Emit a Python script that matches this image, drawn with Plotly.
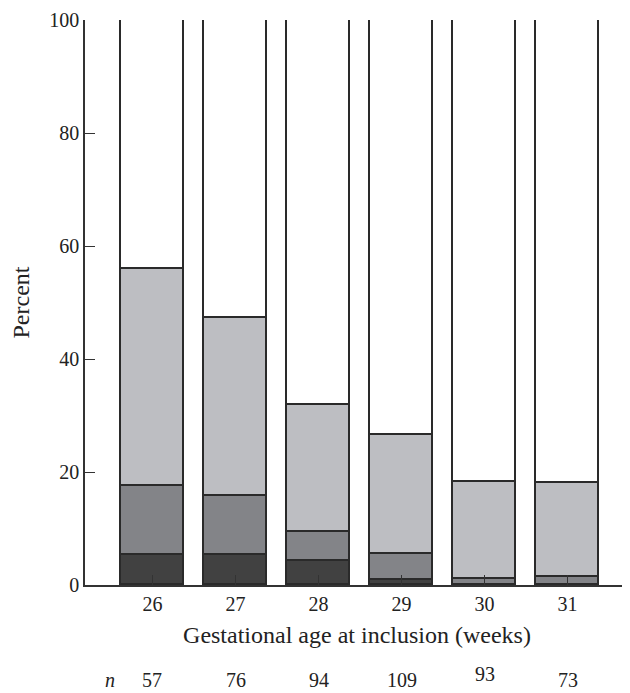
import plotly.graph_objects as go

weeks = [26, 27, 28, 29, 30, 31]
n_values = [57, 76, 94, 109, 93, 73]
dark = [5.3, 5.3, 4.3, 0.9, 0.0, 0.0]
medium = [12.2, 10.5, 5.1, 4.5, 1.0, 1.4]
light = [38.5, 31.5, 22.4, 21.1, 17.3, 16.6]
white = [44.0, 52.7, 68.2, 73.5, 81.7, 82.0]

series = [
    (dark, "#414141"),
    (medium, "#838488"),
    (light, "#bdbec2"),
    (white, "#ffffff"),
]

fig = go.Figure()
for vals, col in series:
    fig.add_trace(go.Bar(
        x=weeks, y=vals, width=0.76,
        marker=dict(color=col, line=dict(color="#2a2a2a", width=1.6)),
        cliponaxis=False, showlegend=False, hoverinfo="skip",
    ))

font = dict(family="Liberation Serif, DejaVu Serif, serif", size=20, color="#222222")

fig.update_layout(
    barmode="stack",
    width=622, height=685,
    margin=dict(l=77, r=1, t=10, b=108),
    paper_bgcolor="white", plot_bgcolor="white",
    font=font,
    bargap=0,
)
fig.update_xaxes(
    range=[25.187, 31.74], tickmode="array", tickvals=weeks,
    ticktext=[str(w) for w in weeks],
    ticks="inside", ticklen=10, tickwidth=1.2, tickcolor="#333333",
    showline=True, linecolor="#333333", linewidth=1.5,
    showgrid=False, zeroline=False, ticklabeloverflow="allow",
    title=dict(text="Gestational age at inclusion (weeks)", standoff=12),
)
fig.update_yaxes(
    range=[0, 100], tickvals=[0, 20, 40, 60, 80, 100],
    ticks="inside", ticklen=10, tickwidth=1.2, tickcolor="#333333",
    showline=True, linecolor="#333333", linewidth=1.5,
    showgrid=False, zeroline=False, ticklabeloverflow="allow",
    title=dict(text="Percent", standoff=14),
)

fig.add_annotation(x=0.033, xref="paper", y=-0.1675, yref="paper", text="<i>n</i>",
                   showarrow=False, font=font, yanchor="middle")
for w, nv in zip(weeks, n_values):
    fig.add_annotation(x=w, xref="x", y=-0.1675, yref="paper", text=str(nv),
                       showarrow=False, font=font, yanchor="middle",
                       yshift=6 if nv == 93 else 0)

fig.write_html("out.html")
